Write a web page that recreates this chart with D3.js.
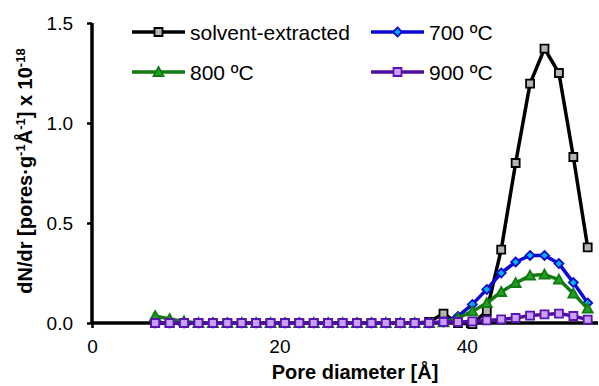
<!DOCTYPE html>
<html>
<head>
<meta charset="utf-8">
<script src="https://cdn.jsdelivr.net/npm/d3@7"></script>
<style>
  html, body { margin: 0; padding: 0; background: #fff; }
  text { font-family: "Liberation Sans", Arial, sans-serif; }
</style>
</head>
<body>
<div id="chart"></div>
<script>
// pore diameter grid (Å)
var diameters = [6.74, 8.28, 9.82, 11.36, 12.90, 14.44, 15.97, 17.51, 19.05, 20.59,
                 22.12, 23.66, 25.20, 26.74, 28.28, 29.82, 31.35, 32.89, 34.43, 35.97,
                 37.51, 39.05, 40.59, 42.13, 43.67, 45.21, 46.75, 48.29, 49.83, 51.37, 52.90];

var solventExtracted = [0, 0, 0, 0, 0, 0, 0, 0, 0, 0,
                        0, 0, 0, 0, 0, 0, 0, 0, 0, 0.005,
                        0.047, 0.0, -0.006, 0.06, 0.367, 0.80, 1.197, 1.372, 1.25, 0.83, 0.378];
var c700 = [0, 0, 0, 0, 0, 0, 0, 0, 0, 0,
            0, 0, 0, 0, 0, 0, 0, 0, 0, 0,
            0.005, 0.033, 0.093, 0.168, 0.25, 0.305, 0.338, 0.338, 0.297, 0.202, 0.10];
var c800 = [0.035, 0.02, 0.008, 0, 0, 0, 0, 0, 0, 0,
            0, 0, 0, 0, 0, 0, 0, 0, 0, 0,
            0.003, 0.025, 0.058, 0.10, 0.155, 0.20, 0.237, 0.242, 0.217, 0.147, 0.072];
var c900 = [0, 0, 0, 0, 0, 0, 0, 0, 0, 0,
            0, 0, 0, 0, 0, 0, 0, 0, 0, 0,
            0.005, 0.005, 0.008, 0.013, 0.018, 0.025, 0.037, 0.043, 0.047, 0.035, 0.017];

var xTicks = [0, 20, 40];
var yTicks = [0, 0.5, 1.0, 1.5];

var seriesNames = ['solvent-extracted', '700 ºC', '800 ºC', '900 ºC'];

var W = 599, H = 386;

var svg = d3.select('#chart').append('svg')
  .attr('width', W).attr('height', H);

var x = d3.scaleLinear().domain([0, 54]).range([92, 598]);
var y = d3.scaleLinear().domain([0, 1.5]).range([323, 23]);

var styles = [
  {line: '#000000', fill: '#b4b4b4', stroke: '#000000', shape: 'square'},
  {line: '#0a0ad2', fill: '#00b4f0', stroke: '#0a0ad2', shape: 'diamond'},
  {line: '#137a13', fill: '#1fa01f', stroke: '#137a13', shape: 'triangle'},
  {line: '#4f0fa0', fill: '#c9a0f5', stroke: '#5a14b4', shape: 'square'}
];
var allSeries = [solventExtracted, c700, c800, c900];

var markerPath = function(shape) {
  if (shape === 'square') return 'M-4,-4H4V4H-4Z';
  if (shape === 'diamond') return 'M0,-4.5L4.5,0L0,4.5L-4.5,0Z';
  return 'M0,-5L5,4H-5Z';
};

// axes
var yAxis = svg.append('g')
  .attr('transform', 'translate(' + x(0) + ',0)')
  .call(d3.axisLeft(y).tickValues(yTicks).tickSize(5).tickPadding(14)
    .tickFormat(d3.format('.1f')));
var xAxis = svg.append('g')
  .attr('transform', 'translate(0,' + y(0) + ')')
  .call(d3.axisBottom(x).tickValues(xTicks).tickSize(5).tickPadding(12));

[yAxis, xAxis].forEach(function(a) {
  a.select('.domain').attr('stroke', '#000').attr('stroke-width', 3.5);
  a.selectAll('.tick line').attr('stroke', '#000').attr('stroke-width', 2.5);
  a.selectAll('.tick text').attr('fill', '#000')
    .style('font-size', '19px').style('font-family', '"Liberation Sans", Arial, sans-serif');
});
// remove outer tick stubs from domain path
yAxis.select('.domain').attr('d', 'M0,' + y(1.5) + 'V' + y(0));
xAxis.select('.domain').attr('d', 'M' + x(0) + ',0H' + 598);

// series
var line = d3.line()
  .x(function(d) { return x(d[0]); })
  .y(function(d) { return y(d[1]); });

allSeries.forEach(function(vals, k) {
  var pts = diameters.map(function(dx, i) { return [dx, vals[i]]; });
  var st = styles[k];
  var g = svg.append('g').attr('class', 'series-' + k);
  g.append('path').datum(pts)
    .attr('d', line)
    .attr('fill', 'none')
    .attr('stroke', st.line)
    .attr('stroke-width', 3.5)
    .attr('stroke-linejoin', 'round');
  g.selectAll('.mk').data(pts).enter()
    .append('path')
    .attr('class', 'mk')
    .attr('d', markerPath(st.shape))
    .attr('transform', function(d) { return 'translate(' + x(d[0]) + ',' + y(d[1]) + ')'; })
    .attr('fill', st.fill)
    .attr('stroke', st.stroke)
    .attr('stroke-width', 1.8);
});

// legend
var legendPos = [[132, 32], [371, 32], [132, 72], [371, 72]];
legendPos.forEach(function(p, k) {
  var st = styles[k];
  var g = svg.append('g').attr('transform', 'translate(' + p[0] + ',' + p[1] + ')');
  g.append('line').attr('x1', 0).attr('x2', 53).attr('y1', 0).attr('y2', 0)
    .attr('stroke', st.line).attr('stroke-width', 3.5);
  g.append('path').attr('d', markerPath(st.shape))
    .attr('transform', 'translate(26.5,0)')
    .attr('fill', st.fill).attr('stroke', st.stroke).attr('stroke-width', 1.8);
  g.append('text').attr('x', 58).attr('y', 7.5)
    .style('font-size', '21px').attr('fill', '#000')
    .text(seriesNames[k]);
});

// axis titles
svg.append('text')
  .attr('x', 355).attr('y', 379)
  .attr('text-anchor', 'middle')
  .style('font-size', '20px').style('font-weight', 'bold')
  .text('Pore diameter [Å]');

var yt = svg.append('text')
  .attr('transform', 'translate(32,171) rotate(-90)')
  .attr('text-anchor', 'middle')
  .style('font-size', '20px').style('font-weight', 'bold');
yt.append('tspan').text('dN/dr [pores·g');
yt.append('tspan').attr('dy', -7).style('font-size', '13px').text('-1');
yt.append('tspan').attr('dy', 7).text('Å');
yt.append('tspan').attr('dy', -7).style('font-size', '13px').text('-1');
yt.append('tspan').attr('dy', 7).text('] x 10');
yt.append('tspan').attr('dy', -7).style('font-size', '13px').text('-18');
</script>
</body>
</html>
